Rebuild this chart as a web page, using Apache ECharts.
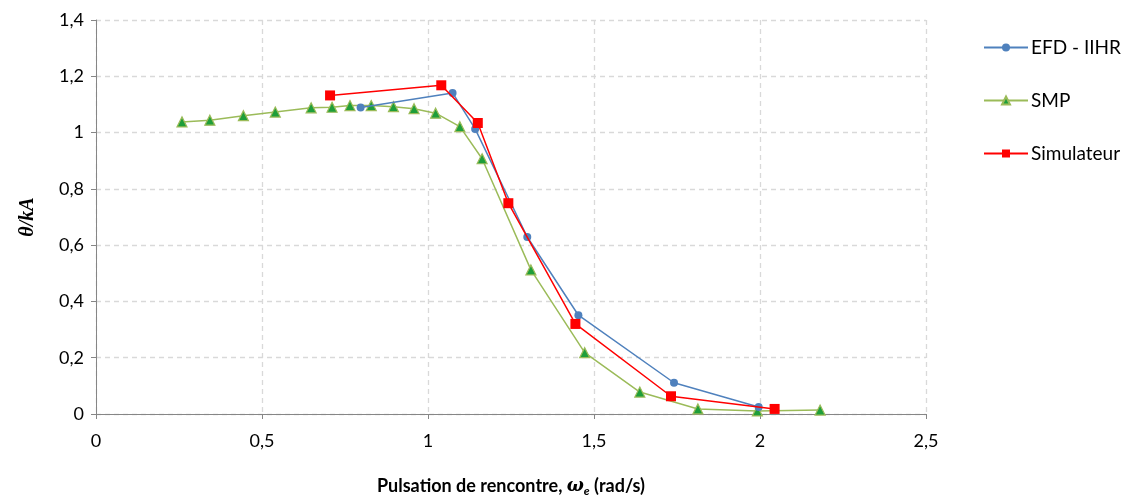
<!DOCTYPE html>
<html><head><meta charset="utf-8">
<script src="https://cdn.jsdelivr.net/npm/echarts@6/dist/echarts.min.js"></script>
<style>html,body{margin:0;padding:0;background:#fff}#c{width:1148px;height:497px}</style>
</head><body><div id="c"></div>
<script>
const efdX = [0.797, 1.074, 1.142, 1.299, 1.453, 1.741, 1.996];
const efdY = [1.089, 1.141, 1.013, 0.629, 0.351, 0.111, 0.025];
const smpX = [0.259, 0.343, 0.444, 0.540, 0.648, 0.711, 0.765, 0.829, 0.896, 0.958, 1.023, 1.096, 1.163, 1.310, 1.472, 1.638, 1.813, 1.992, 2.181];
const smpY = [1.038, 1.044, 1.060, 1.073, 1.088, 1.090, 1.096, 1.096, 1.092, 1.085, 1.069, 1.021, 0.907, 0.512, 0.218, 0.078, 0.018, 0.011, 0.014];
const simX = [0.705, 1.040, 1.150, 1.242, 1.444, 1.732, 2.044];
const simY = [1.132, 1.168, 1.034, 0.749, 0.320, 0.063, 0.018];
const xTicks = ['0', '0,5', '1', '1,5', '2', '2,5'];
const yTicks = ['0', '0,2', '0,4', '0,6', '0,8', '1', '1,2', '1,4'];

const zip = (a, b) => a.map((v, i) => [v, b[i]]);
const font = 'Lato, "Open Sans", sans-serif';
const chart = echarts.init(document.getElementById('c'));
chart.setOption({
  animation: false,
  grid: {left: 96, right: 222, top: 20, bottom: 83, containLabel: false, outerBoundsMode: 'none'},
  legend: {
    orient: 'vertical', left: 978, top: 33, itemWidth: 44, itemHeight: 10, itemGap: 34,
    textStyle: {fontFamily: font, fontSize: 19, color: '#000', padding: [0, 0, 0, -2]},
    data: ['EFD - IIHR', 'SMP', 'Simulateur']
  },
  xAxis: {
    type: 'value', min: 0, max: 2.5, interval: 0.5,
    name: '{b|Pulsation de rencontre, }{w|ω}{s|e}{b| (rad/s)}',
    nameLocation: 'middle', nameGap: 62,
    nameTextStyle: {rich: {
      b: {fontFamily: font, fontWeight: 'bold', fontSize: 18, color: '#000'},
      w: {fontFamily: 'DejaVu Serif, serif', fontStyle: 'italic', fontWeight: 'bold', fontSize: 18, color: '#000'},
      s: {fontFamily: font, fontStyle: 'italic', fontWeight: 'bold', fontSize: 12, color: '#000', verticalAlign: 'bottom', padding: [9, 0, 0, 0]}
    }},
    axisLine: {lineStyle: {color: '#868686'}},
    axisTick: {show: true, length: 5, lineStyle: {color: '#868686'}},
    axisLabel: {fontFamily: font, fontSize: 18, color: '#000', margin: 18,
      formatter: v => xTicks[Math.round(v / 0.5)]},
    splitLine: {lineStyle: {color: '#d9d9d9', type: [5, 4], width: 1.3}}
  },
  yAxis: {
    type: 'value', min: 0, max: 1.4, interval: 0.2,
    name: 'θ/kA', nameLocation: 'middle', nameGap: 58, nameRotate: 90,
    nameTextStyle: {fontFamily: 'Liberation Serif, DejaVu Serif, serif', fontStyle: 'italic', fontWeight: 'bold', fontSize: 20, color: '#000'},
    axisLine: {show: true, lineStyle: {color: '#868686'}},
    axisTick: {show: true, length: 5, lineStyle: {color: '#868686'}},
    axisLabel: {fontFamily: font, fontSize: 18, color: '#000', margin: 12,
      formatter: v => yTicks[Math.round(v / 0.2)]},
    splitLine: {lineStyle: {color: '#d9d9d9', type: [5, 4], width: 1.3}}
  },
  series: [
    {name: 'EFD - IIHR', type: 'line', data: zip(efdX, efdY), symbol: 'circle', symbolSize: 8,
      lineStyle: {color: '#4f81bd', width: 1.5}, itemStyle: {color: '#4f81bd'}, z: 3},
    {name: 'SMP', type: 'line', data: zip(smpX, smpY), symbol: 'triangle', symbolSize: 10,
      lineStyle: {color: '#9bbb59', width: 1.5}, itemStyle: {color: '#1e9e3a', borderColor: '#9bbb59', borderWidth: 1.2}, z: 2},
    {name: 'Simulateur', type: 'line', data: zip(simX, simY), symbol: 'rect', symbolSize: 10,
      lineStyle: {color: '#ff0000', width: 1.5}, itemStyle: {color: '#ff0000'}, z: 4}
  ]
});
</script></body></html>
